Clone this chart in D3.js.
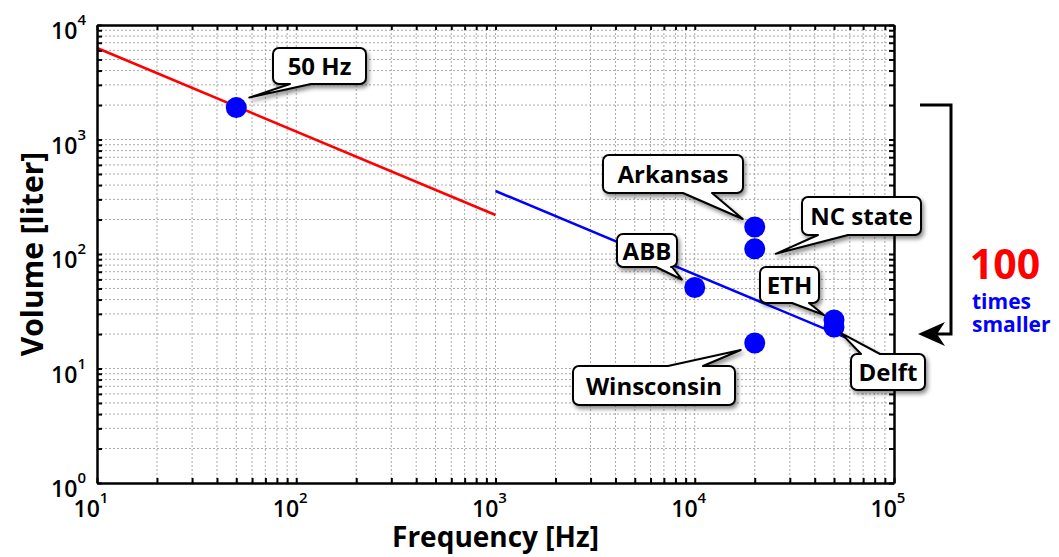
<!DOCTYPE html>
<html>
<head>
<meta charset="utf-8">
<script src="https://cdn.jsdelivr.net/npm/d3@7"></script>
<style>
body { margin: 0; background: #fff; }
text { font-family: "Open Sans", sans-serif; }
</style>
</head>
<body>
<script>
// values
var pointNames = ["50 Hz", "Arkansas", "NC state", "ABB", "ETH", "Delft", "Winsconsin"];
var pointFreq = [50, 20000, 20000, 10000, 50000, 50000, 20000];
var pointVolume = [1900, 172, 111, 51, 26.5, 23, 16.7];

var redFreq = [10, 1000];
var redVolume = [6300, 219];
var blueFreq = [1000, 65000];
var blueVolume = [355, 17];

var xDecades = [1, 2, 3, 4, 5];   // 10^1 .. 10^5
var yDecades = [0, 1, 2, 3, 4];   // 10^0 .. 10^4
var bracketVolume = [2000, 20];

var width = 1059, height = 557;
var margin = { top: 25, right: 165, bottom: 74, left: 97 };

var svg = d3.select("body").append("svg").attr("width", width).attr("height", height);

var xScale = d3.scaleLog().domain([10, 1e5]).range([margin.left, width - margin.right]);
var yScale = d3.scaleLog().domain([1, 1e4]).range([height - margin.bottom, margin.top]);
var x0 = margin.left, x1 = width - margin.right, y0 = margin.top, y1 = height - margin.bottom;

function minorTicks(decades) {
    var out = [];
    decades.forEach(function(d, i) {
        if (i == decades.length - 1) { out.push(Math.pow(10, d)); return; }
        for (var k = 1; k < 10; k++) out.push(k * Math.pow(10, d));
    });
    return out;
}
var xTicks = minorTicks(xDecades);
var yTicks = minorTicks(yDecades);

// dotted grid
var grid = svg.append("g").attr("stroke", "#aaa").attr("stroke-width", 1).attr("stroke-dasharray", "2,2");
grid.selectAll(".gx").data(xTicks.slice(1, -1)).enter().append("line")
    .attr("x1", d => xScale(d)).attr("x2", d => xScale(d)).attr("y1", y0).attr("y2", y1);
grid.selectAll(".gy").data(yTicks.slice(1, -1)).enter().append("line")
    .attr("y1", d => yScale(d)).attr("y2", d => yScale(d)).attr("x1", x0).attr("x2", x1);

// lines
var line = d3.line().x(d => xScale(d[0])).y(d => yScale(d[1]));
svg.append("path").datum(d3.zip(redFreq, redVolume)).attr("d", line)
    .attr("fill", "none").attr("stroke", "#ff0000").attr("stroke-width", 2.5);
svg.append("path").datum(d3.zip(blueFreq, blueVolume)).attr("d", line)
    .attr("fill", "none").attr("stroke", "#0000ff").attr("stroke-width", 2.5);

// box axes with inward ticks
function styleAxis(g) {
    g.select(".domain").attr("stroke", "#000").attr("stroke-width", 2.5);
    g.selectAll(".tick line").attr("stroke", "#000").attr("stroke-width", 2);
}
svg.append("g").attr("transform", "translate(0," + y1 + ")")
    .call(d3.axisBottom(xScale).tickValues(xTicks).tickFormat("").tickSizeInner(-5).tickSizeOuter(0)).call(styleAxis);
svg.append("g").attr("transform", "translate(0," + y0 + ")")
    .call(d3.axisTop(xScale).tickValues(xTicks).tickFormat("").tickSizeInner(-5).tickSizeOuter(0)).call(styleAxis);
svg.append("g").attr("transform", "translate(" + x0 + ",0)")
    .call(d3.axisLeft(yScale).tickValues(yTicks).tickFormat("").tickSizeInner(-5).tickSizeOuter(0)).call(styleAxis);
svg.append("g").attr("transform", "translate(" + x1 + ",0)")
    .call(d3.axisRight(yScale).tickValues(yTicks).tickFormat("").tickSizeInner(-5).tickSizeOuter(0)).call(styleAxis);

// tick labels 10^n
var xl = svg.append("g").selectAll("text").data(xDecades).enter().append("text")
    .attr("x", d => xScale(Math.pow(10, d)) - 6).attr("y", y1 + 34)
    .attr("text-anchor", "middle").attr("font-size", 23).attr("font-weight", 600).text("10");
xl.append("tspan").attr("dy", -14).attr("font-size", 15).text(d => d);

var yl = svg.append("g").selectAll("text").data(yDecades).enter().append("text")
    .attr("x", x0 - 11).attr("y", d => yScale(Math.pow(10, d)) + 14)
    .attr("text-anchor", "end").attr("font-size", 23).attr("font-weight", 600).text("10");
yl.append("tspan").attr("dy", -14).attr("font-size", 15).text(d => d);

// axis titles
svg.append("text").attr("x", (x0 + x1) / 2).attr("y", 547).attr("text-anchor", "middle")
    .attr("font-size", 28).attr("font-weight", 700).text("Frequency [Hz]");
svg.append("text").attr("transform", "translate(43," + ((y0 + y1) / 2) + ") rotate(-90)")
    .attr("text-anchor", "middle").attr("font-size", 30).attr("font-weight", 700).text("Volume [liter]");

// points
svg.append("g").selectAll("circle").data(pointNames).enter().append("circle")
    .attr("cx", (d, i) => xScale(pointFreq[i])).attr("cy", (d, i) => yScale(pointVolume[i]))
    .attr("r", 10.5).attr("fill", "#0000ff");

// callouts
var defs = svg.append("defs");
defs.append("filter").attr("id", "shadow").attr("x", "-20%").attr("y", "-30%").attr("width", "150%").attr("height", "180%")
    .append("feDropShadow").attr("dx", 2).attr("dy", 3).attr("stdDeviation", 2)
    .attr("flood-color", "#000").attr("flood-opacity", 0.45);

// box [left, top, right, bottom], which edge the pointer leaves from, pointer base and tip offset from point
var callouts = {
    "50 Hz": { box: [273, 48, 366, 84], side: "bottom", base: [290, 311], tip: [13, -10] },
    "Arkansas": { box: [603, 155, 743, 193], side: "bottom", base: [683, 712], tip: [-12, -8] },
    "NC state": { box: [802, 197, 921, 235], side: "bottom", base: [818, 848], tip: [21, 5] },
    "ABB": { box: [617, 234, 677, 267], side: "bottom", base: [656, 672], tip: [-13, -8] },
    "ETH": { box: [760, 267, 819, 303], side: "bottom", base: [792, 809], tip: [-10, -5] },
    "Delft": { box: [851, 354, 925, 390], side: "top", base: [861, 880], tip: [7, 6] },
    "Winsconsin": { box: [573, 366, 735, 405], side: "top", base: [668, 703], tip: [-14, 7] }
};

function calloutPath(c, px, py) {
    var l = c.box[0], t = c.box[1], r = c.box[2], b = c.box[3], rr = 6;
    var tx = px + c.tip[0], ty = py + c.tip[1];
    var s = "M" + (l + rr) + "," + t;
    if (c.side == "top") s += "H" + c.base[0] + "L" + tx + "," + ty + "L" + c.base[1] + "," + t;
    s += "H" + (r - rr) + "A" + rr + "," + rr + " 0 0 1 " + r + "," + (t + rr);
    s += "V" + (b - rr) + "A" + rr + "," + rr + " 0 0 1 " + (r - rr) + "," + b;
    if (c.side == "bottom") s += "H" + c.base[1] + "L" + tx + "," + ty + "L" + c.base[0] + "," + b;
    s += "H" + (l + rr) + "A" + rr + "," + rr + " 0 0 1 " + l + "," + (b - rr);
    s += "V" + (t + rr) + "A" + rr + "," + rr + " 0 0 1 " + (l + rr) + "," + t + "Z";
    return s;
}

var cg = svg.append("g").selectAll("g").data(pointNames).enter().append("g");
cg.append("path")
    .attr("d", (d, i) => calloutPath(callouts[d], xScale(pointFreq[i]), yScale(pointVolume[i])))
    .attr("fill", "#fff").attr("stroke", "#000").attr("stroke-width", 2).attr("stroke-linejoin", "round")
    .attr("filter", "url(#shadow)");
cg.append("text")
    .attr("x", d => (callouts[d].box[0] + callouts[d].box[2]) / 2)
    .attr("y", d => (callouts[d].box[1] + callouts[d].box[3]) / 2 + 9)
    .attr("text-anchor", "middle").attr("font-size", 24).attr("font-weight", 700).text(d => d);

// "100 times smaller" bracket
var bTop = yScale(bracketVolume[0]), bBot = yScale(bracketVolume[1]);
svg.append("path").attr("d", "M920," + bTop + "H951V" + bBot + "H936")
    .attr("fill", "none").attr("stroke", "#000").attr("stroke-width", 3);
svg.append("path").attr("d", "M918," + bBot + "L945," + (bBot - 12) + "L937," + bBot + "L945," + (bBot + 12) + "Z")
    .attr("fill", "#000");

svg.append("text").attr("x", 1005).attr("y", 279).attr("text-anchor", "middle")
    .attr("font-size", 41).attr("font-weight", 700).attr("fill", "#ff0000").text("100");
svg.append("text").attr("x", 972).attr("y", 309)
    .attr("font-size", 21).attr("font-weight", 700).attr("fill", "#0000ff").text("times");
svg.append("text").attr("x", 972).attr("y", 332)
    .attr("font-size", 21).attr("font-weight", 700).attr("fill", "#0000ff").text("smaller");
</script>
</body>
</html>
